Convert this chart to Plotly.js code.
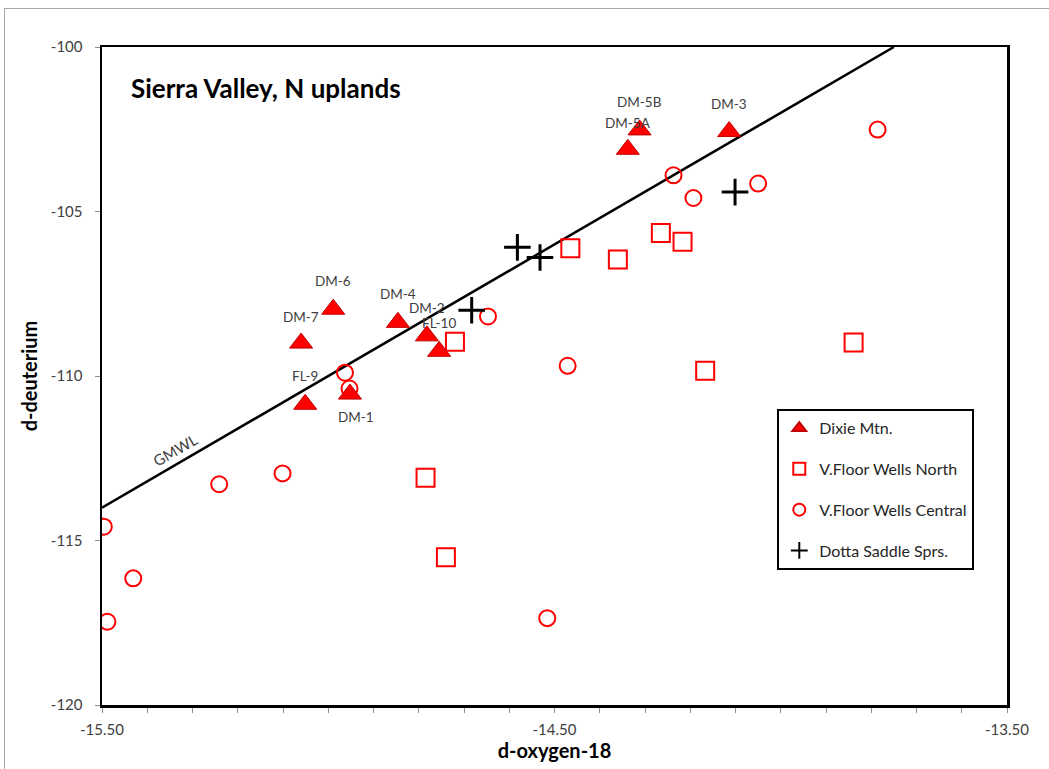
<!DOCTYPE html>
<html>
<head>
<meta charset="utf-8">
<script src="https://cdn.plot.ly/plotly-3.0.1.min.js"></script>
<style>
  html, body { margin: 0; padding: 0; background: #fff; }
  #wrap { position: relative; width: 1049px; height: 769px; overflow: hidden; }
  #chart { position: absolute; left: 0; top: 0; width: 1049px; height: 769px; }
  #frame { position: absolute; left: 4px; top: 8px; width: 1100px; height: 1000px;
           border-left: 1.5px solid #a6a6a6; border-top: 1.5px solid #a6a6a6;
           pointer-events: none; z-index: 5; }
</style>
</head>
<body>
<div id="wrap"><div id="chart"></div><div id="frame"></div></div>
<script>
// ---- data ----
const dixieNames = ["DM-5B", "DM-5A", "DM-3", "DM-6", "DM-7", "DM-4", "DM-2", "FL-10", "FL-9", "DM-1"];
const dixieX = [-14.312, -14.338, -14.114, -14.989, -15.060, -14.846, -14.782, -14.755, -15.051, -14.952];
const dixieY = [-102.52, -103.11, -102.57, -107.97, -109.00, -108.37, -108.78, -109.25, -110.86, -110.55];

const northX = [-14.465, -14.360, -14.265, -14.217, -13.839, -14.167, -14.720, -14.785, -14.740];
const northY = [-106.12, -106.46, -105.65, -105.92, -108.98, -109.84, -108.96, -113.09, -115.51];

const centralX = [-14.237, -14.193, -14.050, -13.786, -14.647, -14.963, -14.953, -15.241, -15.101, -15.496, -15.431, -15.488, -14.516, -14.471];
const centralY = [-103.90, -104.59, -104.15, -102.51, -108.19, -109.90, -110.38, -113.29, -112.96, -114.58, -116.15, -117.47, -117.36, -109.69];

const dottaX = [-14.582, -14.532, -14.683, -14.101];
const dottaY = [-106.09, -106.40, -108.00, -104.41];

const gmwlX = [-15.5, -13.75];
const gmwlY = [-114, -100];

const seriesNames = ["Dixie Mtn.", "V.Floor Wells North", "V.Floor Wells Central", "Dotta Saddle Sprs."];

const xTickVals = [-15.5, -14.5, -13.5];
const xTickText = ["-15.50", "-14.50", "-13.50"];
const yTickVals = [-100, -105, -110, -115, -120];
const yTickText = ["-100", "-105", "-110", "-115", "-120"];

// ---- label placement (pixel offsets, layout only) ----
const labelXShift = [0, 0, 0, 0, 0, 0, 0, 0, 0, 6];
const labelYShift = [28, 26, 28, 28, 26, 28, 28, 28, 28, -23];

const FONT = "Lato, 'Open Sans', sans-serif";
const RED = "#ff0000";

const traces = [
  {
    x: gmwlX, y: gmwlY, mode: "lines", showlegend: false, hoverinfo: "skip",
    line: { color: "#000", width: 2.5 }
  },
  {
    x: northX, y: northY, mode: "markers", name: seriesNames[1], legendgroup: "b", legendrank: 2,
    marker: { symbol: "square-open", size: 18, color: RED, line: { color: RED, width: 2 } }
  },
  {
    x: centralX, y: centralY, mode: "markers", name: seriesNames[2], legendgroup: "c", legendrank: 3,
    marker: { symbol: "circle-open", size: 16, color: RED, line: { color: RED, width: 2 } }
  },
  {
    x: dottaX, y: dottaY, mode: "markers", name: seriesNames[3], legendgroup: "d", legendrank: 4,
    marker: { symbol: "cross-thin-open", size: 19, color: "#000", line: { color: "#000", width: 3 } }
  },
  {
    x: dixieX, y: dixieY, mode: "markers", name: seriesNames[0], legendgroup: "a", legendrank: 1,
    text: dixieNames, hoverinfo: "text+x+y",
    marker: { symbol: "triangle-up", size: 20, color: RED, line: { color: "#c00000", width: 1 } }
  }
];

const annotations = dixieNames.map((n, i) => ({
  x: dixieX[i], y: dixieY[i], xref: "x", yref: "y", text: n, showarrow: false,
  xshift: labelXShift[i], yshift: labelYShift[i],
  font: { family: FONT, size: 13.5, color: "#404040" }
}));
annotations.push({
  x: -15.339, y: -112.25, xref: "x", yref: "y", text: "GMWL", showarrow: false,
  textangle: -30, font: { family: FONT, size: 15, color: "#404040" }
});

const layout = {
  width: 1049, height: 769, autosize: false,
  margin: { l: 102, r: 42, t: 47, b: 64, pad: 0 },
  paper_bgcolor: "#fff", plot_bgcolor: "#fff",
  font: { family: FONT, color: "#404040" },
  title: {
    text: "<b>Sierra Valley, N uplands</b>",
    font: { family: FONT, size: 26, color: "#000" },
    xref: "paper", x: 0.032, xanchor: "left",
    yref: "container", y: 1 - 89 / 769, yanchor: "middle"
  },
  xaxis: {
    range: [-15.5, -13.5], tickmode: "array", tickvals: xTickVals, ticktext: xTickText,
    showgrid: false, zeroline: false,
    showline: true, mirror: true, linecolor: "#000", linewidth: 2.5,
    ticks: "outside", ticklen: 5, tickcolor: "#8c8c8c", tickwidth: 1,
    ticklabelstandoff: 4,
    minor: { tickmode: "linear", tick0: -15.5, dtick: 0.1, ticks: "outside", ticklen: 5, tickcolor: "#8c8c8c", tickwidth: 1, showgrid: false },
    tickfont: { family: FONT, size: 15, color: "#404040" },
    title: { text: "<b>d-oxygen-18</b>", font: { family: FONT, size: 20, color: "#000" }, standoff: 8 },
    automargin: false
  },
  yaxis: {
    range: [-120, -100], tickmode: "array", tickvals: yTickVals, ticktext: yTickText,
    showgrid: false, zeroline: false,
    showline: true, mirror: true, linecolor: "#000", linewidth: 2.5,
    ticks: "outside", ticklen: 5, tickcolor: "#8c8c8c", tickwidth: 1,
    ticklabelstandoff: 9,
    tickfont: { family: FONT, size: 15, color: "#404040" },
    title: { text: "<b>d-deuterium</b>", font: { family: FONT, size: 20, color: "#000" }, standoff: 8 },
    automargin: false
  },
  legend: {
    x: (974 - 102) / 904.7, xanchor: "right", xref: "paper",
    y: (705 - 409) / 658.3, yanchor: "top", yref: "paper",
    bgcolor: "#fff", bordercolor: "#000", borderwidth: 2,
    font: { family: FONT, size: 16, color: "#262626" },
    traceorder: "grouped", tracegroupgap: 17, itemsizing: "constant"
  },
  annotations: annotations,
  showlegend: true
};

Plotly.newPlot("chart", traces, layout, { displayModeBar: false, staticPlot: true });
</script>
</body>
</html>
